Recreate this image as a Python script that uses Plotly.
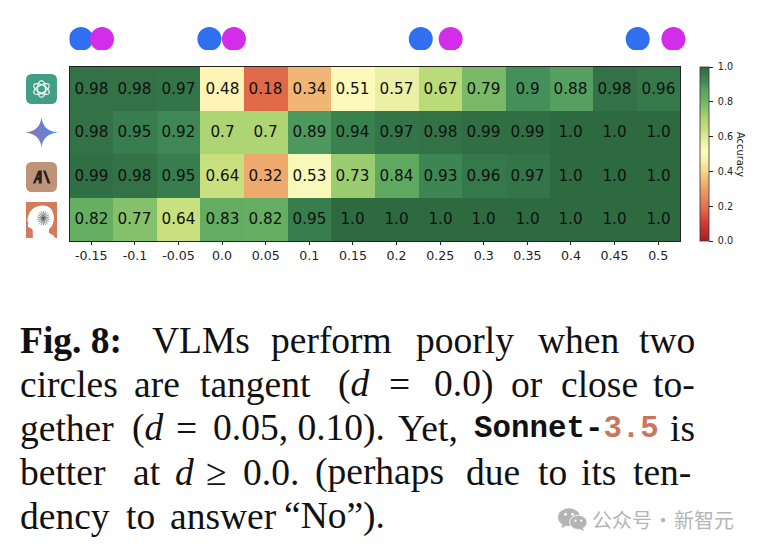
import base64
import plotly.graph_objects as go

W, H = 760, 550

# --- data ---
distances = ["-0.15", "-0.1", "-0.05", "0.0", "0.05", "0.1", "0.15", "0.2", "0.25", "0.3", "0.35", "0.4", "0.45", "0.5"]
models = ["GPT-4o", "Gemini-1.5", "Sonnet-3.5", "Sonnet-3"]
acc_gpt = [0.98, 0.98, 0.97, 0.48, 0.18, 0.34, 0.51, 0.57, 0.67, 0.79, 0.9, 0.88, 0.98, 0.96]
acc_gemini = [0.98, 0.95, 0.92, 0.7, 0.7, 0.89, 0.94, 0.97, 0.98, 0.99, 0.99, 1.0, 1.0, 1.0]
acc_sonnet = [0.99, 0.98, 0.95, 0.64, 0.32, 0.53, 0.73, 0.84, 0.93, 0.96, 0.97, 1.0, 1.0, 1.0]
acc_opus = [0.82, 0.77, 0.64, 0.83, 0.82, 0.95, 1.0, 1.0, 1.0, 1.0, 1.0, 1.0, 1.0, 1.0]

# circle pairs above the heatmap, in column units
blue_cols = [-0.236, 2.708, 7.555, 12.53]
pink_cols = [0.245, 3.27, 8.24, 13.35]
circle_row = [0.37, 0.37, 0.37, 0.37]

colorscale = [
    [0.0, "#a81a2c"], [0.1, "#d2392f"], [0.18, "#e0694a"], [0.32, "#eeaa6d"],
    [0.4, "#f8d68c"], [0.48, "#fdf4b6"], [0.52, "#fbfabc"], [0.57, "#eaf0a6"],
    [0.64, "#c9e07f"], [0.7, "#aed574"], [0.77, "#85c06b"], [0.82, "#66ae62"],
    [0.88, "#55a05f"], [0.9, "#45905a"], [0.95, "#377d4e"], [1.0, "#2e6a40"],
]

# caption words: (left pixel, markup), one list per line
caption = [
    (340, [(19, "<b>Fig. 8:</b>"), (151, "VLMs"), (270, "perform"), (415, "poorly"), (537, "when"), (638, "two")]),
    (384, [(19, "circles"), (133, "are"), (199, "tangent"), (337, "(<i>d</i>"), (388, "="), (433, "0.0)"),
           (510, "or"), (560, "close"), (652, "to-")]),
    (428, [(19, "gether"), (131, "(<i>d</i>"), (175, "="), (212, "0.05, 0.10)."), (397, "Yet,"), (669, "is")]),
    (472, [(19, "better"), (132, "at"), (174, "<i>d</i>"), (205, "≥"), (242, "0.0."), (314, "(perhaps"),
           (465, "due"), (537, "to"), (580, "its"), (632, "ten-")]),
    (516, [(19, "dency"), (125, "to"), (169, "answer"), (283, "“No”)."),]),
]


def px_x(x):
    return x / W


def px_y(y):
    return 1 - y / H


def svg_image(svg, x0, y0, x1, y1):
    uri = "data:image/svg+xml;base64," + base64.b64encode(svg.encode()).decode()
    return dict(source=uri, xref="paper", yref="paper", x=px_x(x0), y=px_y(y0),
                sizex=(x1 - x0) / W, sizey=(y1 - y0) / H, xanchor="left", yanchor="top",
                sizing="stretch", layer="above")


def label(x, y, text, size, color="#111111", family="Liberation Serif", angle=0, xanchor="left"):
    return dict(x=px_x(x), y=px_y(y), xref="paper", yref="paper", xanchor=xanchor, yanchor="middle",
                text=text, showarrow=False, borderpad=0, textangle=angle,
                font=dict(family=family, size=size, color=color))


knot = "".join(
    f'<ellipse cx="50" cy="50" rx="13" ry="28" transform="rotate({a} 50 50)" fill="none" stroke="#e8f4f0" stroke-width="4"/>'
    for a in (0, 60, 120)
)
openai_svg = f'<svg xmlns="http://www.w3.org/2000/svg" viewBox="0 0 100 100"><rect width="100" height="100" rx="18" fill="#429f85"/>{knot}</svg>'
gemini_svg = ('<svg xmlns="http://www.w3.org/2000/svg" viewBox="0 0 100 100"><defs><linearGradient id="g" x1="0" y1="0.6" x2="1" y2="0.35">'
              '<stop offset="0" stop-color="#9a72ae"/><stop offset="0.5" stop-color="#6f7fca"/><stop offset="1" stop-color="#4a8ee6"/></linearGradient></defs>'
              '<path d="M50 0 Q54 46 100 50 Q54 54 50 100 Q46 54 0 50 Q46 46 50 0Z" fill="url(#g)"/></svg>')
anthropic_svg = ('<svg xmlns="http://www.w3.org/2000/svg" viewBox="0 0 100 100"><rect width="100" height="100" rx="18" fill="#bd9479"/>'
                 '<path d="M22 72 L40 28 H51 L51 72 H41 V60 H35 L30 72Z M38 51 H41 V42Z" fill="#2b211c" fill-rule="evenodd"/>'
                 '<path d="M55 28 H63 L79 72 H70Z" fill="#2b211c"/></svg>')
rays = "".join(
    f'<line x1="56" y1="25" x2="56" y2="65" transform="rotate({a} 56 45)" stroke="#555" stroke-width="1.8"/>'
    for a in range(0, 180, 20)
)
head_svg = ('<svg xmlns="http://www.w3.org/2000/svg" viewBox="0 0 100 100" preserveAspectRatio="none"><rect width="100" height="100" fill="#d27c5c"/>'
            '<path d="M22 100 V80 Q20 72 8 70 Q4 66 8 58 L4 52 Q10 12 52 10 Q88 10 90 44 Q90 66 74 76 V86 Q88 90 96 100Z" fill="#fff"/>'
            f'{rays}</svg>')
wechat_svg = ('<svg xmlns="http://www.w3.org/2000/svg" viewBox="0 0 100 80"><ellipse cx="38" cy="32" rx="38" ry="31" fill="#b4b4b4"/>'
              '<path d="M16 52 L12 70 L34 58Z" fill="#b4b4b4"/><ellipse cx="70" cy="50" rx="30" ry="25" fill="#b4b4b4" stroke="#fff" stroke-width="3"/>'
              '<path d="M84 68 L90 80 L72 72Z" fill="#b4b4b4"/>'
              '<circle cx="26" cy="22" r="5" fill="#fff"/><circle cx="50" cy="22" r="5" fill="#fff"/>'
              '<circle cx="60" cy="44" r="4" fill="#fff"/><circle cx="80" cy="44" r="4" fill="#fff"/></svg>')

z = [acc_gpt, acc_gemini, acc_sonnet, acc_opus]
text = [[str(v) for v in row] for row in z]

fig = go.Figure()

fig.add_trace(go.Heatmap(
    z=z, x=distances, y=models, text=text, texttemplate="%{text}",
    textfont=dict(family="DejaVu Sans", size=15.2, color="#111111"),
    colorscale=colorscale, zmin=0, zmax=1, xgap=0, ygap=0,
    colorbar=dict(
        x=px_x(700), xanchor="left", thickness=9, xpad=0, ypad=0,
        y=px_y(241), yanchor="bottom", len=174 / H, lenmode="fraction",
        tick0=0, dtick=0.2, tickformat=".1f", tickprefix="\u00a0", ticks="outside", ticklen=4, tickwidth=0.8,
        tickcolor="#222222", tickfont=dict(family="DejaVu Sans", size=9.6, color="#222222"),
        outlinewidth=0.8, outlinecolor="#333333",
    ),
))

fig.add_trace(go.Scatter(
    x=blue_cols, y=circle_row, xaxis="x2", yaxis="y2", mode="markers",
    marker=dict(size=24, color="#2f6ff0"), hoverinfo="skip", showlegend=False,
))
fig.add_trace(go.Scatter(
    x=pink_cols, y=circle_row, xaxis="x2", yaxis="y2", mode="markers",
    marker=dict(size=24, color="#d42ceb"), hoverinfo="skip", showlegend=False,
))

annotations = []
for y, words in caption:
    for x, word in words:
        annotations.append(label(x, y, word, 37.5))
# mono model name in the third line
annotations.append(label(473, 428, '<b>Sonnet-</b><span style="color:#c8775c"><b>3.5</b></span>', 30.8,
                         family="Liberation Mono"))
annotations.append(label(741, 154, "Accuracy", 9.9, color="#222222", family="DejaVu Sans", angle=90, xanchor="center"))
# watermark
annotations.append(label(591, 519, "公众号", 20, color="#b5b5b5", family="Noto Sans CJK SC"))
annotations.append(label(663, 519, "·", 20, color="#b5b5b5", family="Noto Sans CJK SC", xanchor="center"))
annotations.append(label(673, 519, "新智元", 20, color="#b5b5b5", family="Noto Sans CJK SC"))

fig.update_layout(
    width=W, height=H,
    margin=dict(l=0, r=0, t=0, b=0, autoexpand=False),
    paper_bgcolor="white", plot_bgcolor="white",
    xaxis=dict(
        domain=[px_x(69.5), px_x(680)], type="category", ticks="outside", ticklen=3, tickwidth=0.8,
        tickcolor="#222222", tickfont=dict(family="DejaVu Sans", size=12.6, color="#222222"),
        showline=True, linecolor="#222222", linewidth=1, mirror=True, showgrid=False, anchor="y",
        tickangle=0,
    ),
    yaxis=dict(
        domain=[px_y(241), px_y(67)], type="category", autorange="reversed", showticklabels=False,
        ticks="", showline=True, linecolor="#222222", linewidth=1, mirror=True, showgrid=False, anchor="x",
    ),
    # same column scale as the heatmap, run on to 700 px so the last circle is not cut
    xaxis2=dict(domain=[px_x(69.5), px_x(700)], range=[-0.5, -0.5 + 14 * (700 - 69.5) / (680 - 69.5)],
                visible=False, anchor="y2"),
    yaxis2=dict(domain=[px_y(50), px_y(20)], range=[0, 1], visible=False, anchor="x2"),
    annotations=annotations,
    images=[
        svg_image(openai_svg, 26, 74, 57, 104),
        svg_image(gemini_svg, 25, 117, 58, 148),
        svg_image(anthropic_svg, 26, 162, 57, 192),
        svg_image(head_svg, 26, 202, 57, 238),
        svg_image(wechat_svg, 558, 508, 587, 531),
    ],
)

fig.write_html("out.html", config=dict(displayModeBar=False), post_script="document.body.style.margin='0';")
